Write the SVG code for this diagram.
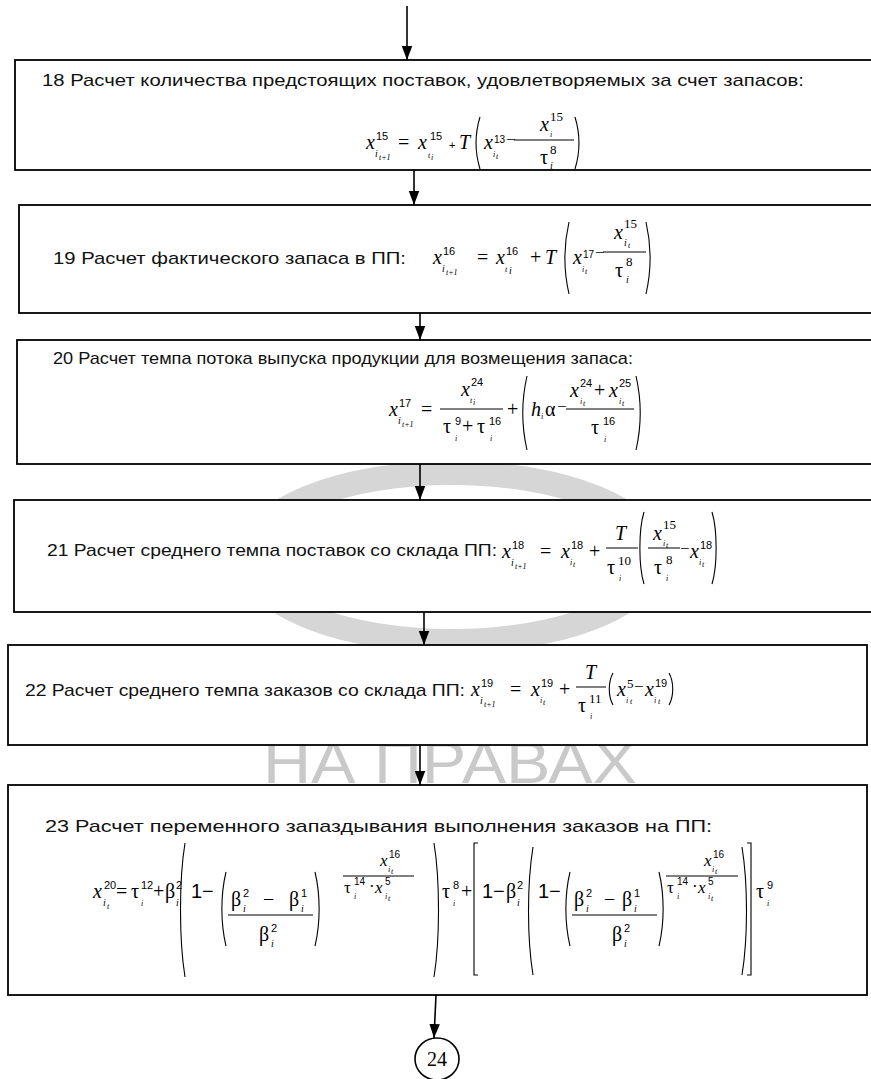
<svg xmlns="http://www.w3.org/2000/svg" width="871" height="1079" viewBox="0 0 871 1079">
<defs>
<marker id="ah" viewBox="0 0 16 12" refX="16" refY="6" markerWidth="14" markerHeight="12" markerUnits="userSpaceOnUse" orient="auto"><path d="M0,0 L16,6 L0,12 z" fill="#000"/></marker>
<style>
.box{fill:#fff;stroke:#000;stroke-width:1.8}
.cn{stroke:#000;stroke-width:1.6;fill:none;marker-end:url(#ah)}
.lbl{font-family:"Liberation Sans Narrow","Liberation Sans",Arial,sans-serif;font-size:17px;fill:#111}
.v{font-family:"Liberation Serif","Times New Roman",serif;font-style:italic;font-size:20px}
.v16{font-family:"Liberation Serif","Times New Roman",serif;font-style:italic;font-size:17px}
.r{font-family:"Liberation Serif","Times New Roman",serif;font-size:20px}
.r16{font-family:"Liberation Serif","Times New Roman",serif;font-size:17px}
.s{font-family:"Liberation Sans",Arial,sans-serif;font-size:11px}
.s10{font-family:"Liberation Sans",Arial,sans-serif;font-size:10px}
.n{font-family:"Liberation Serif","Times New Roman",serif;font-size:13px}
.i{font-family:"Liberation Serif","Times New Roman",serif;font-style:italic;font-size:10px}
.ii{font-family:"Liberation Serif","Times New Roman",serif;font-style:italic;font-size:8px}
.o{font-family:"Liberation Sans",Arial,sans-serif;font-size:20px}
.fl{stroke:#000;stroke-width:1;fill:none}
.p{stroke:#000;stroke-width:1.1;fill:none}
.wm{fill:#c9c9c9;font-family:"Liberation Sans",Arial,sans-serif;font-size:60px}
</style>
</defs>
<g id="watermark">
<ellipse cx="452" cy="557" rx="204" ry="84" fill="none" stroke="#d6d6d6" stroke-width="24"/>
<text class="wm" x="450" y="783" text-anchor="middle" textLength="374" lengthAdjust="spacingAndGlyphs">НА ПРАВАХ</text>
</g>
<g id="n18">
<rect class="box" x="15" y="60" width="870" height="110"/>
<text class="lbl" x="42" y="86" textLength="762" lengthAdjust="spacingAndGlyphs">18 Расчет количества предстоящих поставок, удовлетворяемых за счет запасов:</text>
<text class="v" x="366" y="149">x</text><text class="s" x="376" y="140">15</text><text class="i" x="375" y="157">i</text><text class="ii" x="379" y="160">t+1</text>
<text class="r" x="398" y="149">=</text>
<text class="v" x="418" y="149">x</text><text class="s" x="430" y="140">15</text><text class="ii" x="428" y="158">t</text><text class="ii" x="431" y="160">i</text>
<text class="s" x="449" y="149">+</text>
<text class="v" x="459" y="149">T</text>
<path class="p" d="M480,117 C474.5,135 474.5,151 480,169"/>
<text class="v" x="484" y="149">x</text><text class="s10" x="494" y="143">13</text><text class="ii" x="493" y="157">i</text><text class="ii" x="496" y="159">t</text>
<text class="r16" x="506" y="145">−</text>
<line class="fl" x1="514" y1="140" x2="574" y2="140"/>
<text class="v" x="540" y="131">x</text><text class="n" x="550" y="121">15</text><text class="ii" x="550" y="137">i</text>
<text class="r" x="540" y="164">τ</text><text class="n" x="550" y="154">8</text><text class="i" x="550" y="169">i</text>
<path class="p" d="M575,117 C580.5,135 580.5,151 575,169"/>
</g>
<g id="n19">
<rect class="box" x="19" y="205" width="866" height="108"/>
<text class="lbl" x="53" y="264" textLength="353" lengthAdjust="spacingAndGlyphs">19 Расчет фактического запаса в ПП:</text>
<text class="v" x="433" y="264">x</text><text class="s" x="443" y="255">16</text><text class="i" x="442" y="272">i</text><text class="ii" x="446" y="275">t+1</text>
<text class="r" x="477" y="264">=</text>
<text class="v" x="496" y="264">x</text><text class="s" x="506" y="255">16</text><text class="ii" x="505" y="272">t</text><text class="i" x="509" y="274">i</text>
<text class="r" x="530" y="264">+</text>
<text class="v" x="545" y="264">T</text>
<path class="p" d="M569,222 C563.5,246 563.5,270 569,294"/>
<text class="v" x="573" y="264">x</text><text class="s10" x="583" y="258">17</text><text class="ii" x="582" y="272">i</text><text class="ii" x="585" y="274">t</text>
<text class="r16" x="595" y="258">−</text>
<line class="fl" x1="603" y1="252" x2="646" y2="252"/>
<text class="v" x="614" y="239">x</text><text class="n" x="624" y="228">15</text><text class="i" x="624" y="246">i</text><text class="ii" x="628" y="248">t</text>
<text class="r" x="615" y="277">τ</text><text class="n" x="626" y="266">8</text><text class="i" x="626" y="283">i</text>
<path class="p" d="M646,222 C651.5,246 651.5,270 646,294"/>
</g>
<g id="n20">
<rect class="box" x="17" y="340" width="868" height="124"/>
<text class="lbl" x="53" y="364" textLength="580" lengthAdjust="spacingAndGlyphs">20  Расчет темпа потока выпуска продукции для возмещения запаса:</text>
<text class="v" x="389" y="416">x</text><text class="s" x="399" y="407">17</text><text class="i" x="398" y="424">i</text><text class="ii" x="402" y="427">t+1</text>
<text class="r" x="421" y="416">=</text>
<text class="v" x="461" y="396">x</text><text class="s" x="471" y="386">24</text><text class="ii" x="470" y="403">t</text><text class="ii" x="473" y="405">i</text>
<line class="fl" x1="440" y1="409" x2="503" y2="409"/>
<text class="r" x="443" y="433">τ</text><text class="s" x="455" y="425">9</text><text class="ii" x="455" y="441">i</text>
<text class="r" x="462" y="433">+</text>
<text class="r" x="477" y="433">τ</text><text class="s" x="489" y="425">16</text><text class="ii" x="490" y="441">i</text>
<text class="r" x="507" y="416">+</text>
<path class="p" d="M527,376 C521.5,400 521.5,426 527,450"/>
<text class="v" x="531" y="416">h</text><text class="ii" x="541" y="419">i</text><text class="r" x="545" y="416">α</text>
<text class="r16" x="557" y="412">−</text>
<line class="fl" x1="566" y1="409" x2="634" y2="409"/>
<text class="v" x="570" y="397">x</text><text class="s" x="580" y="387">24</text><text class="ii" x="580" y="404">i</text><text class="ii" x="583" y="406">t</text>
<text class="r" x="594" y="397">+</text>
<text class="v" x="609" y="397">x</text><text class="s" x="619" y="387">25</text><text class="ii" x="619" y="404">i</text><text class="ii" x="622" y="406">t</text>
<text class="r" x="591" y="434">τ</text><text class="s" x="603" y="425">16</text><text class="ii" x="604" y="442">i</text>
<path class="p" d="M636,376 C641.5,400 641.5,426 636,450"/>
</g>
<g id="n21">
<rect class="box" x="14" y="500" width="871" height="112"/>
<text class="lbl" x="47" y="556" textLength="450" lengthAdjust="spacingAndGlyphs">21  Расчет среднего темпа поставок со склада ПП:</text>
<text class="v" x="502" y="558">x</text><text class="s" x="512" y="549">18</text><text class="i" x="511" y="566">i</text><text class="ii" x="515" y="569">t+1</text>
<text class="r" x="540" y="558">=</text>
<text class="v" x="561" y="558">x</text><text class="s" x="571" y="549">18</text><text class="ii" x="570" y="565">i</text><text class="ii" x="573" y="567">t</text>
<text class="r" x="589" y="558">+</text>
<text class="v" x="615" y="540">T</text>
<line class="fl" x1="606" y1="548" x2="638" y2="548"/>
<text class="r" x="607" y="574">τ</text><text class="n" x="618" y="565">10</text><text class="ii" x="619" y="581">i</text>
<path class="p" d="M644,512 C638.5,530 638.5,566 644,584"/>
<text class="v" x="653" y="540">x</text><text class="n" x="663" y="529">15</text><text class="ii" x="663" y="546">i</text><text class="ii" x="666" y="548">t</text>
<line class="fl" x1="648" y1="548" x2="680" y2="548"/>
<text class="r" x="654" y="574">τ</text><text class="n" x="666" y="564">8</text><text class="ii" x="666" y="581">i</text>
<text class="r16" x="680" y="554">−</text>
<text class="v" x="690" y="558">x</text><text class="s" x="700" y="549">18</text><text class="ii" x="699" y="565">i</text><text class="ii" x="702" y="567">t</text>
<path class="p" d="M712,512 C717.5,530 717.5,566 712,584"/>
</g>
<g id="n22">
<rect class="box" x="8" y="645" width="859" height="100"/>
<text class="lbl" x="25" y="696" textLength="440" lengthAdjust="spacingAndGlyphs">22  Расчет среднего темпа заказов со склада ПП:</text>
<text class="v" x="471" y="696">x</text><text class="s" x="481" y="687">19</text><text class="i" x="480" y="704">i</text><text class="ii" x="484" y="707">t+1</text>
<text class="r" x="510" y="696">=</text>
<text class="v" x="531" y="696">x</text><text class="s" x="541" y="687">19</text><text class="ii" x="540" y="703">i</text><text class="ii" x="543" y="705">t</text>
<text class="r" x="559" y="696">+</text>
<text class="v" x="585" y="679">T</text>
<line class="fl" x1="576" y1="687" x2="606" y2="687"/>
<text class="r" x="578" y="712">τ</text><text class="n" x="589" y="703">11</text><text class="ii" x="590" y="719">i</text>
<path class="p" d="M613,673 C608,682 608,696 613,705"/>
<text class="v" x="617" y="696">x</text><text class="n" x="627" y="688">5</text><text class="ii" x="626" y="703">i</text><text class="ii" x="630" y="704">t</text>
<text class="r16" x="634" y="692">−</text>
<text class="v" x="645" y="696">x</text><text class="s" x="655" y="687">19</text><text class="ii" x="654" y="703">i</text><text class="ii" x="658" y="704">t</text>
<path class="p" d="M669,673 C674,682 674,696 669,705"/>
</g>
<g id="n23">
<rect class="box" x="8" y="785" width="859" height="210"/>
<text class="lbl" x="45" y="832" font-size="18" textLength="667" lengthAdjust="spacingAndGlyphs">23 Расчет переменного запаздывания выполнения заказов на ПП:</text>
<text class="v" x="93" y="898" font-size="22">x</text><text class="s" x="104" y="889">20</text><text class="i" x="103" y="906">i</text><text class="ii" x="107" y="909">t</text>
<text class="r" x="116" y="898" font-size="22">=</text>
<text class="r" x="131" y="898" font-size="22">τ</text><text class="s" x="141" y="889">12</text><text class="ii" x="141" y="906">i</text>
<text class="r" x="153" y="898" font-size="22">+</text>
<text class="r" x="165" y="898" font-size="22">β</text><text class="s" x="176" y="889">2</text><text class="i" x="176" y="906">i</text>
<path class="p" d="M185,843 C179,880 179,940 185,977"/>
<text class="o" x="191" y="898" font-size="22">1−</text>
<path class="p" d="M226,872 C220.5,895 220.5,923 226,946"/>
<text class="r" x="231" y="906" font-size="22">β</text><text class="s" x="243" y="897">2</text><text class="i" x="243" y="912">i</text>
<text class="r" x="263" y="906" font-size="22">−</text>
<text class="r" x="289" y="906" font-size="22">β</text><text class="s" x="301" y="897">1</text><text class="i" x="301" y="912">i</text>
<line class="fl" x1="228" y1="915" x2="313" y2="915"/>
<text class="r" x="259" y="941" font-size="22">β</text><text class="s" x="271" y="932">2</text><text class="i" x="271" y="947">i</text>
<path class="p" d="M315,872 C320.5,895 320.5,923 315,946"/>
<text class="v16" x="380" y="866">x</text><text class="s10" x="389" y="858">16</text><text class="ii" x="388" y="872">i</text><text class="ii" x="391" y="874">t</text>
<line class="fl" x1="343" y1="876" x2="414" y2="876"/>
<text class="r16" x="344" y="893">τ</text><text class="s10" x="354" y="885">14</text><text class="ii" x="354" y="899">i</text>
<text class="r16" x="369" y="892">·</text>
<text class="v16" x="375" y="893">x</text><text class="s10" x="385" y="885">5</text><text class="ii" x="385" y="899">i</text><text class="ii" x="388" y="901">t</text>
<path class="p" d="M434,843 C440,880 440,940 434,977"/>
<text class="r" x="442" y="898" font-size="22">τ</text><text class="s" x="453" y="889">8</text><text class="ii" x="453" y="906">i</text>
<text class="r" x="461" y="898" font-size="22">+</text>
<path class="p" d="M478,843 H474 V975 H478"/>
<text class="o" x="482" y="898" font-size="22">1−</text>
<text class="r" x="506" y="898" font-size="22">β</text><text class="s" x="517" y="889">2</text><text class="i" x="517" y="906">i</text>
<path class="p" d="M533,847 C527,884 527,938 533,975"/>
<text class="o" x="538" y="898" font-size="22">1−</text>
<path class="p" d="M570,872 C564.5,895 564.5,923 570,946"/>
<text class="r" x="574" y="906" font-size="22">β</text><text class="s" x="586" y="897">2</text><text class="i" x="586" y="912">i</text>
<text class="r" x="604" y="906" font-size="22">−</text>
<text class="r" x="622" y="906" font-size="22">β</text><text class="s" x="634" y="897">1</text><text class="i" x="634" y="912">i</text>
<line class="fl" x1="572" y1="915" x2="657" y2="915"/>
<text class="r" x="612" y="941" font-size="22">β</text><text class="s" x="624" y="932">2</text><text class="i" x="624" y="947">i</text>
<path class="p" d="M659,872 C664.5,895 664.5,923 659,946"/>
<text class="v16" x="704" y="866">x</text><text class="s10" x="713" y="858">16</text><text class="ii" x="712" y="872">i</text><text class="ii" x="715" y="874">t</text>
<line class="fl" x1="666" y1="876" x2="738" y2="876"/>
<text class="r16" x="667" y="893">τ</text><text class="s10" x="677" y="885">14</text><text class="ii" x="677" y="899">i</text>
<text class="r16" x="692" y="892">·</text>
<text class="v16" x="698" y="893">x</text><text class="s10" x="708" y="885">5</text><text class="ii" x="708" y="899">i</text><text class="ii" x="711" y="901">t</text>
<path class="p" d="M742,847 C748,884 748,938 742,975"/>
<path class="p" d="M747,843 H751 V975 H747"/>
<text class="r" x="756" y="898" font-size="22">τ</text><text class="s" x="767" y="889">9</text><text class="ii" x="767" y="906">i</text>
</g>
<g id="n24">
<ellipse cx="437" cy="1059" rx="22" ry="21" fill="#fff" stroke="#000" stroke-width="1.6"/>
<text x="437" y="1066" text-anchor="middle" font-family="Liberation Serif, serif" font-size="20">24</text>
</g>
<g id="connectors">
<line class="cn" x1="407" y1="6" x2="407" y2="60"/>
<line class="cn" x1="414" y1="170" x2="414" y2="205"/>
<line class="cn" x1="420" y1="313" x2="420" y2="340"/>
<line class="cn" x1="420" y1="464" x2="420" y2="500"/>
<line class="cn" x1="424" y1="612" x2="424" y2="645"/>
<line class="cn" x1="420" y1="745" x2="420" y2="785"/>
<line class="cn" x1="436" y1="995" x2="434" y2="1038"/>
</g>
</svg>
